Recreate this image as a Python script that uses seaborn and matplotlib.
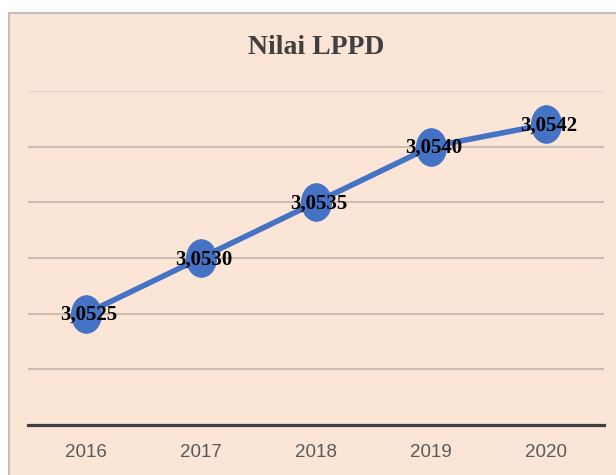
import matplotlib
matplotlib.use("Agg")
import matplotlib.pyplot as plt
import seaborn as sns
import numpy as np
import pandas as pd
from matplotlib.patches import Rectangle
from matplotlib.path import Path
from matplotlib.transforms import Affine2D

years = ["2016", "2017", "2018", "2019", "2020"]
lppd = [3.0525, 3.0530, 3.0535, 3.0540, 3.0542]
title = "Nilai LPPD"
y_grid = [3.0520, 3.0525, 3.0530, 3.0535, 3.0540, 3.0545]

df = pd.DataFrame({"year": years, "lppd": lppd})

sns.set_theme(style="white")
plt.rcParams["font.family"] = ["Liberation Serif", "DejaVu Serif"]

W, H = 616, 475
fig = plt.figure(figsize=(W / 100, H / 100), dpi=100)
fig.patch.set_facecolor("white")
bg = Rectangle((8.5 / W, -0.05), 1.0, (H - 12.5) / H + 0.05,
               transform=fig.transFigure, facecolor="#FBE5D6",
               edgecolor="#BFBFBF", linewidth=1.5, zorder=-10)
fig.patches.append(bg)

ax = fig.add_axes([28 / W, (H - 425) / H, (604 - 28) / W, (425 - 91) / H])
ax.set_facecolor("none")
ax.set_zorder(1)

ell = Path(Affine2D().scale(1.0, 1.25).transform(Path.unit_circle().vertices),
           Path.unit_circle().codes)

sns.lineplot(data=df, x="year", y="lppd", ax=ax, color="#4472C4",
             linewidth=4, marker=ell, markersize=27,
             markerfacecolor="#4472C4", markeredgecolor="#4472C4", zorder=3)

for i, v in enumerate(lppd):
    ax.annotate(f"{v:.4f}".replace(".", ","), (i, v), xytext=(2, -1),
                textcoords="offset points", ha="center", va="center",
                fontsize=15, fontweight="bold", color="black", zorder=5,
                family=["Liberation Serif", "DejaVu Serif"])

ax.set_xlim(-0.5, len(years) - 0.5)
ax.set_ylim(3.0515, 3.0545)
ax.set_yticks(y_grid)
ax.set_yticklabels([])
ax.tick_params(axis="y", length=0)
ax.yaxis.grid(True, color="#CBBDB4", linewidth=1.5, zorder=1)
ax.xaxis.grid(False)
ax.set_axisbelow(True)
gl = ax.get_ygridlines()
gl[-1].set_color("#E6D3C8")
for s in ["top", "right", "left"]:
    ax.spines[s].set_visible(False)
ax.spines["bottom"].set_color("#404040")
ax.spines["bottom"].set_linewidth(2.3)
ax.tick_params(axis="x", length=0, pad=14, labelsize=13.5, labelcolor="#595959")
for lab in ax.get_xticklabels():
    lab.set_family(["Liberation Sans", "DejaVu Sans"])
ax.set_xlabel("")
ax.set_ylabel("")

fig.text(316 / W, 1 - 47.5 / H, title, ha="center", va="center",
         fontsize=20, fontweight="bold", color="#404040",
         family=["Liberation Serif", "DejaVu Serif"])

fig.savefig("out.png", dpi=100, facecolor=fig.get_facecolor())
